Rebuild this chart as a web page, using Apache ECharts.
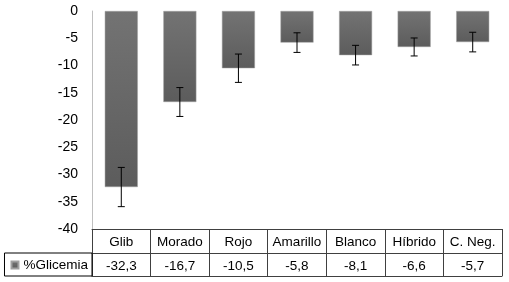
<!DOCTYPE html>
<html>
<head>
<meta charset="utf-8">
<script src="https://cdn.jsdelivr.net/npm/echarts@6/dist/echarts.min.js"></script>
<style>
  html, body { margin: 0; padding: 0; background: #fff; }
  #chart { width: 509px; height: 282px; }
</style>
</head>
<body>
<div id="chart"></div>
<script>
const categories = ['Glib', 'Morado', 'Rojo', 'Amarillo', 'Blanco', 'Híbrido', 'C. Neg.'];
const glicemia = [-32.3, -16.7, -10.5, -5.8, -8.1, -6.6, -5.7];
const errors = [3.6, 2.65, 2.6, 1.8, 1.8, 1.65, 1.8];
const seriesName = '%Glicemia';

const FONT = 'Liberation Sans';
const tableColor = '#404040';

const valueLabels = glicemia.map(v => v.toFixed(1).replace('.', ','));
const errData = glicemia.map((v, i) => [i, v - errors[i], v + errors[i]]);

const chart = echarts.init(document.getElementById('chart'));
chart.setOption({
    backgroundColor: '#fff',
    animation: false,
    textStyle: { fontFamily: FONT },
    grid: { left: 92, right: 7, top: 11, bottom: 53 },
    legend: {
        right: 417,
        top: 253,
        data: [seriesName],
        icon: 'rect',
        itemWidth: 7,
        itemHeight: 7,
        padding: [5, 4, 4, 6],
        borderColor: '#000',
        borderWidth: 1,
        borderRadius: 0,
        textStyle: { fontFamily: FONT, fontSize: 13.5, color: '#000' }
    },
    xAxis: [
        {
            type: 'category',
            data: categories,
            position: 'bottom',
            axisLine: { onZero: false, lineStyle: { color: tableColor, width: 1 } },
            axisTick: { show: true, interval: 0, length: 47, lineStyle: { color: tableColor } },
            axisLabel: { interval: 0, margin: 6, fontSize: 13.5, color: '#000', fontFamily: FONT }
        },
        {
            type: 'category',
            data: valueLabels,
            position: 'bottom',
            offset: 24,
            axisLine: { onZero: false, lineStyle: { color: tableColor, width: 1 } },
            axisTick: { show: false },
            axisLabel: { interval: 0, margin: 6, fontSize: 13.5, color: '#000', fontFamily: FONT }
        },
        {
            type: 'category',
            data: categories,
            position: 'bottom',
            offset: 47,
            axisLine: { onZero: false, lineStyle: { color: tableColor, width: 1 } },
            axisTick: { show: false },
            axisLabel: { show: false }
        }
    ],
    yAxis: {
        type: 'value',
        min: -40,
        max: 0,
        interval: 5,
        axisLine: { show: true, lineStyle: { color: '#bfbfbf' } },
        axisTick: { show: false },
        splitLine: { show: false },
        axisLabel: { margin: 14, fontSize: 14, color: '#000', fontFamily: FONT }
    },
    series: [
        {
            name: seriesName,
            type: 'bar',
            data: glicemia,
            barWidth: 33,
            itemStyle: {
                color: new echarts.graphic.LinearGradient(0, 0, 0, 1, [
                    { offset: 0, color: '#737373' },
                    { offset: 1, color: '#5c5c5c' }
                ]),
                borderColor: '#a0a0a0',
                borderWidth: 0.5
            }
        },
        {
            name: 'error',
            type: 'custom',
            data: errData,
            z: 5,
            renderItem: function (params, api) {
                const x = api.value(0);
                const top = api.coord([x, api.value(2)]);
                const bottom = api.coord([x, api.value(1)]);
                const half = 3.5;
                const style = { stroke: '#000', lineWidth: 1 };
                return {
                    type: 'group',
                    children: [
                        { type: 'line', shape: { x1: top[0], y1: top[1], x2: bottom[0], y2: bottom[1] }, style: style },
                        { type: 'line', shape: { x1: top[0] - half, y1: top[1], x2: top[0] + half, y2: top[1] }, style: style },
                        { type: 'line', shape: { x1: bottom[0] - half, y1: bottom[1], x2: bottom[0] + half, y2: bottom[1] }, style: style }
                    ]
                };
            }
        }
    ]
});
</script>
</body>
</html>
